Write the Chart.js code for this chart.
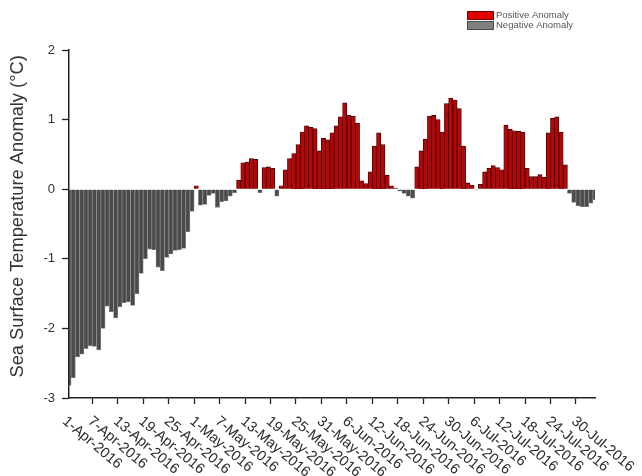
<!DOCTYPE html>
<html><head><meta charset="utf-8">
<script src="https://cdn.jsdelivr.net/npm/chart.js@4.4.1/dist/chart.umd.min.js"></script>
<style>html,body{margin:0;padding:0;background:#fff;}#wrap{width:642px;height:476px;}</style>
</head><body><div id="wrap"><canvas id="c" width="642" height="476"></canvas></div>
<script>
// daily sea surface temperature anomaly, 1-Apr-2016 onward
const startDay = [2016, 3, 1];
const anomaly = [
 -2.82,-2.71,-2.41,-2.37,-2.29,-2.25,-2.26,-2.31,-2.00,-1.68,
 -1.76,-1.85,-1.69,-1.63,-1.62,-1.67,-1.50,-1.21,-1.00,-0.86,
 -0.87,-1.12,-1.17,-0.98,-0.93,-0.88,-0.87,-0.85,-0.61,-0.32,
  0.05,-0.23,-0.22,-0.09,-0.06,-0.26,-0.18,-0.17,-0.10,-0.05,
  0.13, 0.38, 0.39, 0.44, 0.43,-0.05, 0.31, 0.32, 0.30,-0.10,
  0.05, 0.28, 0.44, 0.51, 0.64, 0.82, 0.91, 0.89, 0.87, 0.55,
  0.73, 0.71, 0.81, 0.91, 1.04, 1.24, 1.06, 1.05, 0.95, 0.12,
  0.08, 0.25, 0.62, 0.81, 0.64, 0.20, 0.05, 0.01,-0.03,-0.06,
 -0.10,-0.13, 0.32, 0.55, 0.72, 1.05, 1.06, 1.00, 0.82, 1.23,
  1.31, 1.28, 1.16, 0.62, 0.09, 0.06,-0.01, 0.07, 0.25, 0.30,
  0.34, 0.31, 0.28, 0.92, 0.86, 0.84, 0.83, 0.82, 0.30, 0.18,
  0.18, 0.21, 0.17, 0.81, 1.02, 1.04, 0.82, 0.35,-0.06,-0.19,
 -0.24,-0.25,-0.25,-0.20,-0.15
];
const tickLabels = ['1-Apr-2016','7-Apr-2016','13-Apr-2016','19-Apr-2016','25-Apr-2016',
 '1-May-2016','7-May-2016','13-May-2016','19-May-2016','25-May-2016','31-May-2016',
 '6-Jun-2016','12-Jun-2016','18-Jun-2016','24-Jun-2016','30-Jun-2016',
 '6-Jul-2016','12-Jul-2016','18-Jul-2016','24-Jul-2016','30-Jul-2016'];
const legendLabels = ['Positive Anomaly','Negative Anomaly'];
const yAxisTitle = '\u00A0\u00A0\u00A0Sea Surface Temperature Anomaly (\u00B0C)';

const months = ['Jan','Feb','Mar','Apr','May','Jun','Jul','Aug','Sep','Oct','Nov','Dec'];
const categories = anomaly.map((_, i) => {
  const d = new Date(startDay[0], startDay[1], startDay[2] + i);
  return d.getDate() + '-' + months[d.getMonth()] + '-' + d.getFullYear();
});

const FONT = "'Liberation Sans', Arial, sans-serif";
Chart.defaults.font.family = FONT;

const xLabelPlugin = {
  id: 'xLabels',
  afterDraw(chart) {
    const ctx = chart.ctx, xs = chart.scales.x;
    const y0 = chart.chartArea.bottom + 16;
    ctx.save();
    ctx.font = '14.5px ' + FONT;
    ctx.fillStyle = '#2b2b2b';
    ctx.textAlign = 'left';
    ctx.textBaseline = 'top';
    categories.forEach((c, i) => {
      if (!tickLabels.includes(c)) return;
      const x = xs.getPixelForValue(i);
      ctx.save();
      ctx.translate(x, y0);
      ctx.rotate(40 * Math.PI / 180);
      ctx.fillText(c, 0, 0);
      ctx.restore();
    });
    ctx.restore();
  }
};

const legendPlugin = {
  id: 'customLegend',
  afterDraw(chart) {
    const ctx = chart.ctx;
    const fills = ['#e00000', '#808080'];
    const strokes = ['#5a0000', '#404040'];
    ctx.save();
    ctx.font = '9.5px ' + FONT;
    ctx.textBaseline = 'middle';
    legendLabels.forEach((t, k) => {
      const y = 11 + k * 10;
      ctx.fillStyle = fills[k];
      ctx.fillRect(467, y, 27, 9);
      ctx.strokeStyle = strokes[k];
      ctx.lineWidth = 0.8;
      ctx.strokeRect(467.5, y + 0.5, 26, 8);
      ctx.fillStyle = '#555';
      ctx.fillText(t, 496, y + 4.8);
    });
    ctx.restore();
  }
};

new Chart(document.getElementById('c'), {
  type: 'bar',
  data: {
    labels: categories,
    datasets: [{
      data: anomaly,
      backgroundColor: c => (anomaly[c.dataIndex] >= 0 ? '#b50707' : '#4a4a4a'),
      borderColor: c => (anomaly[c.dataIndex] >= 0 ? '#3a0000' : '#858585'),
      borderWidth: 0.8,
      barPercentage: 1,
      categoryPercentage: 1,
      clip: 0
    }]
  },
  options: {
    responsive: false,
    animation: false,
    layout: { padding: { top: 50, right: 47, left: 0, bottom: 0 } },
    plugins: { legend: { display: false }, tooltip: { enabled: false } },
    scales: {
      x: {
        type: 'category',
        offset: false,
        ticks: { display: false, autoSkip: false },
        grid: {
          display: true, drawOnChartArea: false, drawTicks: true, tickLength: 6,
          color: 'rgba(0,0,0,0)', tickWidth: 1.3,
          tickColor: c => (tickLabels.includes(categories[c.index]) ? '#222' : 'rgba(0,0,0,0)')
        },
        border: { display: true, color: '#222', width: 1.5 },
        afterFit: s => { s.height = 78; }
      },
      y: {
        min: -3, max: 2,
        ticks: { stepSize: 1, color: '#333', font: { size: 13 }, padding: 7 },
        grid: { drawOnChartArea: false, drawTicks: true, tickLength: 7, tickColor: '#222', tickWidth: 1.3 },
        border: { display: true, color: '#222', width: 1.5 },
        title: { display: true, text: yAxisTitle, color: '#333', font: { size: 18.3 }, padding: { top: 7, bottom: 0 } },
        afterFit: s => { s.width = 69; }
      }
    }
  },
  plugins: [xLabelPlugin, legendPlugin]
});
</script>
</body></html>
